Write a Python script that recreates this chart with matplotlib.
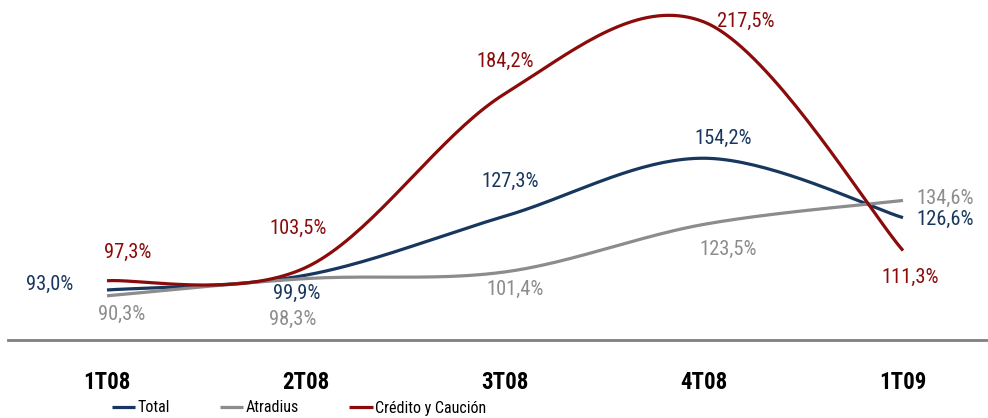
import numpy as np
import matplotlib
matplotlib.use("Agg")
import matplotlib.pyplot as plt
from matplotlib import font_manager
from matplotlib.font_manager import FontProperties

categories = ["1T08", "2T08", "3T08", "4T08", "1T09"]
total = [93.0, 99.9, 127.3, 154.2, 126.6]
atradius = [90.3, 98.3, 101.4, 123.5, 134.6]
credito = [97.3, 103.5, 184.2, 217.5, 111.3]
series_names = ["Total", "Atradius", "Crédito y Caución"]


def find_narrow(bold=False):
    cands = []
    for f in font_manager.fontManager.ttflist:
        nm = (f.name + " " + f.fname).lower()
        st = str(f.stretch).lower()
        narrow = ("narrow" in nm or "condensed" in nm or "condensed" in st)
        if not narrow or "extra" in nm or "ultra" in nm or "semi" in nm:
            continue
        if "italic" in f.style or "oblique" in f.style or "italic" in nm:
            continue
        w = f.weight if isinstance(f.weight, int) else (700 if "bold" in str(f.weight) else 400)
        if bold != (w >= 600):
            continue
        if not bold and w < 350:
            continue
        pri = 0 if "liberation" in nm else (1 if "arial" in nm else (2 if "roboto" in nm else 3))
        cands.append((pri, f.fname))
    cands.sort()
    return cands[0][1] if cands else None


reg_path = find_narrow(False)
bold_path = find_narrow(True)
NARROW = reg_path is not None
plt.rcParams["font.family"] = ["Liberation Sans", "DejaVu Sans"]


def fp(size, bold=False):
    if bold and bold_path:
        return FontProperties(fname=bold_path, size=size)
    if not bold and reg_path:
        return FontProperties(fname=reg_path, size=size)
    return FontProperties(family=["Liberation Sans", "DejaVu Sans"], size=size,
                          weight="bold" if bold else "normal")


lab_size = 14.8 if NARROW else 12.5
tick_size = 16.5 if (bold_path) else 15
leg_size = 11.5 if NARROW else 11

W, H = 988, 418
fig = plt.figure(figsize=(W / 100, H / 100), dpi=100)
ax = fig.add_axes([8 / W, (H - 340) / H, 980 / W, 340 / H])

px_per_cat = 199.0
px_per_unit = 2.153
x0_px = 107.0
ax.set_xlim((8 - x0_px) / px_per_cat, (988 - x0_px) / px_per_cat)
ax.set_ylim(93.0 - 50 / px_per_unit, 93.0 + 290 / px_per_unit)


def smooth(xs, ys, n=40):
    P = np.column_stack([np.asarray(xs, float) * px_per_cat, np.asarray(ys, float) * px_per_unit])
    out = []
    m = len(P)
    for i in range(m - 1):
        p0 = P[max(i - 1, 0)]
        p1 = P[i]
        p2 = P[i + 1]
        p3 = P[min(i + 2, m - 1)]
        c1 = p1 + (p2 - p0) / 6.0
        c2 = p2 - (p3 - p1) / 6.0
        t = np.linspace(0, 1, n)[:, None]
        seg = (1 - t) ** 3 * p1 + 3 * (1 - t) ** 2 * t * c1 + 3 * (1 - t) * t ** 2 * c2 + t ** 3 * p2
        out.append(seg if i == 0 else seg[1:])
    out = np.vstack(out)
    return out[:, 0] / px_per_cat, out[:, 1] / px_per_unit


blue = "#17375E"
gray = "#8C8C8C"
red = "#8B0A0A"
x = np.arange(len(categories))

series = [
    (total, blue, [(-57, 6), (-9, -18), (5, 35), (19, 20), (42, -2)]),
    (atradius, gray, [(15, -19), (-13, -41), (10, -17), (24, -25), (42, 2)]),
    (credito, red, [(21, 28), (-8, 39), (0, 32), (42, 1), (7, -27)]),
]
handles = []
for (vals, col, offs), name in zip(series, series_names):
    sx, sy = smooth(x, vals)
    h, = ax.plot(sx, sy, color=col, lw=2.3, solid_capstyle="butt", label=name)
    handles.append(h)
    for xi, v, off in zip(x, vals, offs):
        ax.annotate(f"{v:.1f}%".replace(".", ","), (xi, v), xytext=off,
                    textcoords="offset pixels", ha="center", va="center",
                    fontproperties=fp(lab_size), color=col)

for s in ["top", "right", "left"]:
    ax.spines[s].set_visible(False)
ax.spines["bottom"].set_color("#808080")
ax.spines["bottom"].set_linewidth(2)
ax.set_yticks([])
ax.set_xticks(x)
ax.set_xticklabels(categories)
for t in ax.get_xticklabels():
    t.set_fontproperties(fp(tick_size, bold=True))
ax.tick_params(axis="x", length=0, pad=22)

fig.legend(handles=handles, loc="center left", bbox_to_anchor=(112 / W, 10 / H),
           ncol=3, frameon=False, prop=fp(leg_size), handlelength=1.45,
           handletextpad=0.15, columnspacing=3.15 if NARROW else 4.0,
           borderpad=0, borderaxespad=0)

fig.savefig("out.png", dpi=100)
